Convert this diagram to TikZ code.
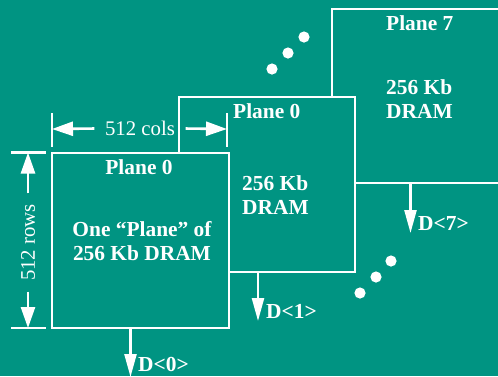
\documentclass[tikz,border=0pt]{standalone}
\usepackage{fontspec}
\setmainfont{Liberation Serif}
\usepackage{tikz}
\usetikzlibrary{arrows.meta,positioning,calc}
\definecolor{tealbg}{RGB}{0,148,130}
\tikzset{
  planebox/.style={draw=white,fill=tealbg,line width=2.4pt,inner sep=0pt},
  outarr/.style={white,line width=2.4pt,-{Triangle[length=23pt,width=12pt]}},
  dimarr/.style={white,line width=2.6pt,-{Triangle[length=21pt,width=14pt]}},
  tickln/.style={white,line width=2.4pt},
  lbl/.style={text=white,inner sep=0pt,font=\fontsize{21.4}{24}\selectfont\bfseries},
  dimtxt/.style={text=white,inner xsep=10.5pt,inner ysep=2pt,font=\fontsize{20.8}{24}\selectfont},
}

\begin{document}
\begin{tikzpicture}[x=1pt,y=-1pt]
  \useasboundingbox (0,0) rectangle (498,376);
  \clip (0,0) rectangle (498,376);
  \fill[tealbg] (0,0) rectangle (498,376);
  % planes, back to front
  \node[planebox,minimum width=176pt,minimum height=174pt] (sik7) at (420,96) {};
  \node[planebox,minimum width=176pt,minimum height=175pt] (sikb) at (267,184.5) {};
  \node[planebox,minimum width=177pt,minimum height=175pt] (sik0) at (140.5,240.5) {};
  \node[lbl,anchor=base west] (t7) at (386,30) {Plane 7};
  \node[lbl,anchor=north west,align=left] (m7) at (386,79) {256 Kb\\DRAM};
  \node[lbl,anchor=base west] (tb) at (233,118) {Plane 0};
  \node[lbl,anchor=north west,align=left] (mb) at (242,175) {256 Kb\\DRAM};
  \node[lbl,anchor=base] (t0) at (139,174) {Plane 0};
  \node[lbl,anchor=north,align=center] (m0) at (142,221) {One “Plane” of\\256 Kb DRAM};
  % dots
  \foreach \p in {(272,69),(288,53),(304,37),(360,293),(376,277),(391,261)}
    \fill[white] \p circle (5.6pt);
  % outputs
  \coordinate (e0) at (130.5,377);
  \coordinate (e1) at (258,321);
  \coordinate (e7) at (410.5,233);
  \draw[outarr] (sik0.south -| e0) -- (e0);
  \draw[outarr] (sikb.south -| e1) -- (e1);
  \draw[outarr] (sik7.south -| e7) -- (e7);
  \node[lbl,anchor=base west] (d0) at (138,371) {D<0>};
  \node[lbl,anchor=base west] (d1) at (266,318) {D<1>};
  \node[lbl,anchor=base west] (d7) at (418,230) {D<7>};
  % dimensions
  \draw[tickln] (52,113) -- (52,147);
  \draw[tickln] (227,113) -- (227,147);
  \draw[tickln] (11,152.5) -- (46,152.5);
  \draw[tickln] (11,328) -- (46,328);
  \coordinate (colL) at (52,129);
  \coordinate (colR) at (227,129);
  \coordinate (rowT) at (28,152.5);
  \coordinate (rowB) at (28,328);
  \node[dimtxt] (cols) at (140,128) {512 cols};
  \node[dimtxt,rotate=90] (rows) at (28,242.5) {512 rows};
  \draw[dimarr] (cols) -- (colL);
  \draw[dimarr] (cols) -- (colR);
  \draw[dimarr] (rows) -- (rowT);
  \draw[dimarr] (rows) -- (rowB);
\end{tikzpicture}
\end{document}
